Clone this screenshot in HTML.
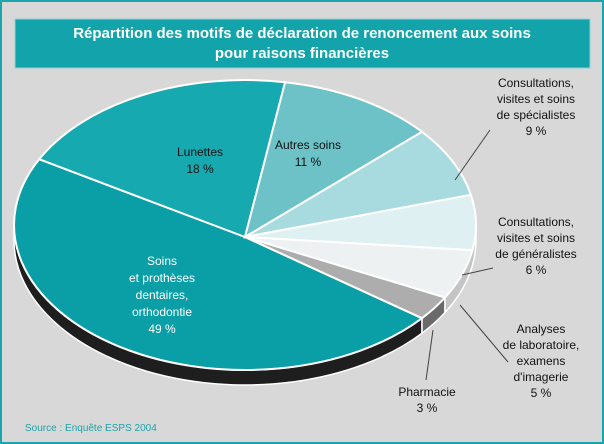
<!DOCTYPE html>
<html><head><meta charset="utf-8"><style>
body{margin:0;width:604px;height:444px;overflow:hidden;background:#fff}
svg{display:block}
text{font-family:"Liberation Sans",sans-serif;font-size:12px;fill:#111;text-anchor:middle}
</style></head><body>
<svg width="604" height="444" viewBox="0 0 604 444">
<rect x="1" y="1" width="602" height="442" fill="#d8d8d8" stroke="#1aa5ad" stroke-width="2"/>
<rect x="15" y="19" width="575" height="49" fill="#13a3ab" stroke="#8fd0d4" stroke-width="1"/>
<text x="302" y="38" style="font-size:15px;font-weight:bold;fill:#fff">Répartition des motifs de déclaration de renoncement aux soins</text>
<text x="302" y="58" style="font-size:15px;font-weight:bold;fill:#fff">pour raisons financières</text>
<path d="M422,318.2 A231,145 0 0 1 14,225 L14,240 A231,145 0 0 0 422,333.2 Z" fill="#1e1e1e" stroke="#fff" stroke-width="1.5"/>
<path d="M445,297.5 A231,145 0 0 1 422,318.2 L422,333.2 A231,145 0 0 0 445,312.5 Z" fill="#6a6a6a" stroke="#fff" stroke-width="1.5"/>
<path d="M476,225 A231,145 0 0 1 445,297.5 L445,312.5 A231,145 0 0 0 476,240 Z" fill="#c4c4c4" stroke="#fff" stroke-width="1.5"/>
<g stroke="#fff" stroke-width="2">
<path d="M245,237 L422,318.2 A231,145 0 0 1 39.2,159.2 Z" fill="#0a9ea6"/>
<path d="M245,237 L39.2,159.2 A231,145 0 0 1 285.1,82.2 Z" fill="#17a9b0"/>
<path d="M245,237 L285.1,82.2 A231,145 0 0 1 422,131.8 Z" fill="#6cc2c7"/>
<path d="M245,237 L422,131.8 A231,145 0 0 1 470.9,194.9 Z" fill="#a8dbdf"/>
<path d="M245,237 L470.9,194.9 A231,145 0 0 1 472.5,250.2 Z" fill="#def0f2"/>
<path d="M245,237 L472.5,250.2 A231,145 0 0 1 445,297.5 Z" fill="#eef1f2"/>
<path d="M245,237 L445,297.5 A231,145 0 0 1 422,318.2 Z" fill="#adadad"/>
</g>
<g stroke="#444" stroke-width="1">
<line x1="455" y1="180" x2="490" y2="130"/>
<line x1="462" y1="275" x2="493" y2="268"/>
<line x1="460" y1="305" x2="508" y2="362"/>
<line x1="433" y1="330" x2="426" y2="380"/>
</g>
<text x="200" y="156">Lunettes</text><text x="200" y="173">18 %</text>
<text x="308" y="149">Autres soins</text><text x="308" y="166">11 %</text>
<text x="162" y="265" style="fill:#fff">Soins</text>
<text x="162" y="282" style="fill:#fff">et prothèses</text>
<text x="162" y="299" style="fill:#fff">dentaires,</text>
<text x="162" y="316" style="fill:#fff">orthodontie</text>
<text x="162" y="333" style="fill:#fff">49 %</text>
<text x="536" y="87">Consultations,</text><text x="536" y="103">visites et soins</text><text x="536" y="119">de spécialistes</text><text x="536" y="135">9 %</text>
<text x="536" y="226">Consultations,</text><text x="536" y="242">visites et soins</text><text x="536" y="258">de généralistes</text><text x="536" y="274">6 %</text>
<text x="541" y="333">Analyses</text><text x="541" y="349">de laboratoire,</text><text x="541" y="365">examens</text><text x="541" y="381">d'imagerie</text><text x="541" y="397">5 %</text>
<text x="427" y="396">Pharmacie</text><text x="427" y="412">3 %</text>
<text x="25" y="431" style="font-size:10px;fill:#1aa5ad;text-anchor:start">Source : Enquête ESPS 2004</text>
</svg>
</body></html>
